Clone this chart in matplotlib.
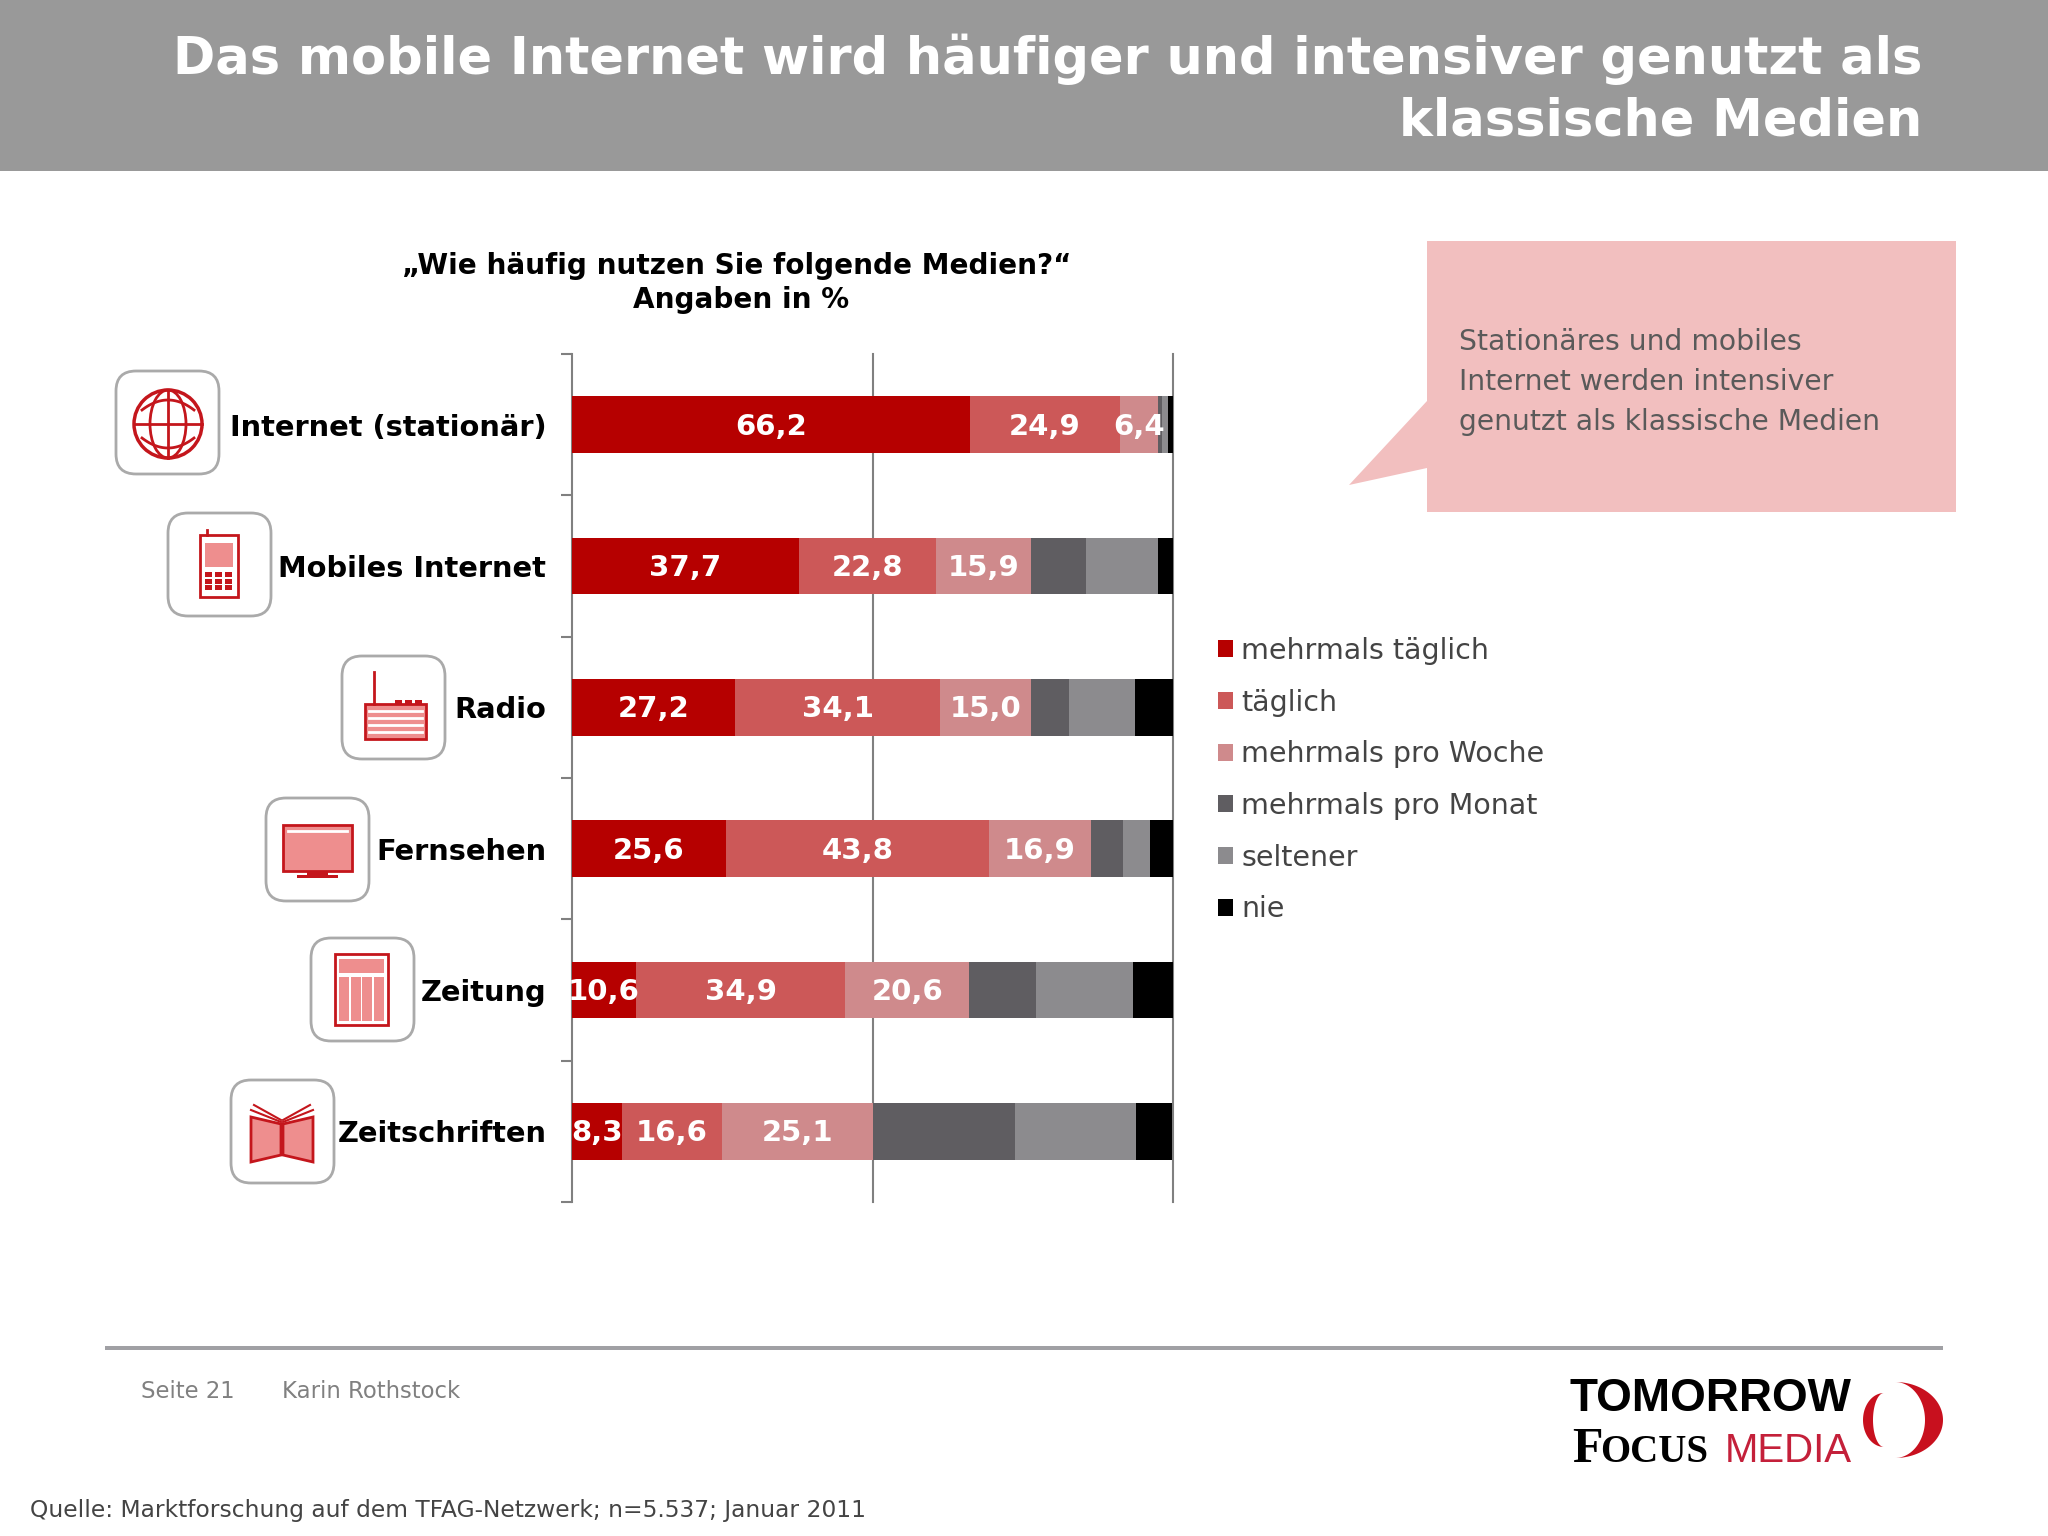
import numpy as np
import matplotlib
matplotlib.use('Agg')
import matplotlib.pyplot as plt
from matplotlib.patches import Rectangle, Circle, Ellipse, Polygon, FancyBboxPatch

# Chart data
media = ["Internet (stationär)", "Mobiles Internet", "Radio", "Fernsehen", "Zeitung", "Zeitschriften"]
mehrmals_taeglich = [66.2, 37.7, 27.2, 25.6, 10.6, 8.3]
taeglich = [24.9, 22.8, 34.1, 43.8, 34.9, 16.6]
mehrmals_woche = [6.4, 15.9, 15.0, 16.9, 20.6, 25.1]
mehrmals_monat = [0.6, 9.1, 6.4, 5.4, 11.1, 23.7]
seltener = [1.1, 12.0, 10.9, 4.4, 16.1, 20.2]
nie = [0.8, 2.5, 6.4, 3.9, 6.7, 6.0]

series_names = ["mehrmals täglich", "täglich", "mehrmals pro Woche", "mehrmals pro Monat", "seltener", "nie"]
series_values = [mehrmals_taeglich, taeglich, mehrmals_woche, mehrmals_monat, seltener, nie]
series_colors = ["#B60000", "#CC5858", "#CF8A8C", "#5F5D61", "#8C8B8E", "#000000"]

RED = "#C4161C"
PINK = "#EE8E8E"
W, H = 2048, 1536

plt.rcParams['font.family'] = ['DejaVu Sans']
fig = plt.figure(figsize=(20.48, 15.36), dpi=100, facecolor='white')

# Overlay in pixel coordinates for slide furniture
bg = fig.add_axes([0, 0, 1, 1])
bg.set_xlim(0, W)
bg.set_ylim(H, 0)
bg.axis('off')


def rect(x0, y0, x1, y1, **kw):
    bg.add_patch(Rectangle((x0, y0), x1 - x0, y1 - y0, **kw))


def crescent(cx, cy, rx_out, rx_in, ry, sign, color):
    t = np.linspace(-np.pi / 2, np.pi / 2, 60)
    outer = np.c_[cx + sign * rx_out * np.cos(t), cy + ry * np.sin(t)]
    inner = np.c_[cx + sign * rx_in * np.cos(t[::-1]), cy + ry * np.sin(t[::-1])]
    bg.add_patch(Polygon(np.r_[outer, inner], closed=True, fc=color, ec='none'))


# Header
rect(0, 0, W, 171, fc='#999999', ec='none')
bg.text(1922, 59, "Das mobile Internet wird häufiger und intensiver genutzt als", color='white',
        fontsize=36.7, fontweight='bold', ha='right', va='center')
bg.text(1922, 121, "klassische Medien", color='white', fontsize=36.7, fontweight='bold', ha='right', va='center')

# Chart heading
bg.text(737, 266, "„Wie häufig nutzen Sie folgende Medien?“", fontsize=20.1, fontweight='bold', ha='center', va='center')
bg.text(741, 300, "Angaben in %", fontsize=20.1, fontweight='bold', ha='center', va='center')

# Callout
rect(1427, 241, 1956, 512, fc='#F2BFBF', ec='none')
bg.add_patch(Polygon([(1427, 401), (1349, 485), (1427, 468)], closed=True, fc='#F2BFBF', ec='none'))
for y, line in zip([342, 382, 422], ["Stationäres und mobiles", "Internet werden intensiver",
                                     "genutzt als klassische Medien"]):
    bg.text(1459, y, line, fontsize=20.3, color='#5A5A5A', va='center')

# Icon boxes
icon_boxes = [(116, 371), (168, 513), (342, 656), (266, 798), (311, 938), (231, 1080)]
for x, y in icon_boxes:
    bg.add_patch(FancyBboxPatch((x + 16, y + 16), 71, 71, boxstyle="round,pad=16,rounding_size=20",
                                fc='white', ec='#AAAAAA', lw=2))

# Globe
cx, cy = 168, 424
bg.add_patch(Circle((cx, cy), 34, fc='none', ec=RED, lw=2.5))
bg.add_patch(Ellipse((cx, cy), 36, 68, fc='none', ec=RED, lw=2))
bg.plot([cx, cx], [cy - 34, cy + 34], color=RED, lw=2)
bg.plot([cx - 34, cx + 34], [cy, cy], color=RED, lw=2)
t = np.linspace(-1, 1, 30)
for sign in (-1, 1):
    bg.plot(cx + 26 * t, cy + sign * (14 + 10 * (1 - t ** 2)), color=RED, lw=2)

# Phone
rect(200, 535, 238, 597, fc='white', ec=RED, lw=2)
bg.plot([207, 207], [530, 535], color=RED, lw=2)
rect(205, 543, 233, 567, fc=PINK, ec='none')
for i in range(3):
    for j in range(3):
        rect(205 + 10 * i, 572 + 6.5 * j, 212 + 10 * i, 577 + 6.5 * j, fc=RED, ec='none')

# Radio
rect(365, 704, 426, 739, fc=PINK, ec=RED, lw=2)
bg.plot([374, 374], [672, 704], color=RED, lw=2)
for x in (395, 405, 415):
    rect(x, 700, x + 7, 704, fc=RED, ec='none')
for y in (711, 718, 725, 732):
    bg.plot([369, 422], [y, y], color='white', lw=2)

# Monitor
rect(283, 825, 352, 871, fc=PINK, ec=RED, lw=2)
bg.plot([288, 347], [831, 831], color='white', lw=2)
rect(307, 871, 328, 876, fc=RED, ec='none')
rect(297, 875, 338, 878, fc=RED, ec='none')

# Newspaper
rect(335, 954, 388, 1025, fc='white', ec=RED, lw=2)
rect(339, 959, 384, 973, fc=PINK, ec='none')
for x in (339, 350.5, 362, 373.5):
    rect(x, 977, x + 10, 1021, fc=PINK, ec='none')

# Magazine
for a, b in ((251, 281), (313, 283)):
    bg.add_patch(Polygon([(a, 1117), (b, 1124), (b, 1155), (a, 1162)], closed=True, fc=PINK, ec=RED, lw=2))
    bg.plot([a + (b - a) * 0.1, b], [1105, 1120], color=RED, lw=1.5)
    bg.plot([a, b], [1110, 1122], color=RED, lw=1.5)

# Bars
ax = fig.add_axes([572 / W, 1 - 1202 / H, (1173 - 572) / W, (1202 - 354) / H])
ax.patch.set_alpha(0)
y_pos = np.arange(len(media))
left = np.zeros(len(media))
for i, (name, values, color) in enumerate(zip(series_names, series_values, series_colors)):
    bars = ax.barh(y_pos, values, left=left, height=0.4, color=color, label=name, zorder=3)
    if i < 3:
        texts = ax.bar_label(bars, labels=[f"{v:.1f}".replace('.', ',') for v in values], label_type='center',
                             color='white', fontsize=21, fontweight='bold', zorder=4)
        for txt in texts:
            txt.xyann = (0, -1.5)
    left += np.array(values)

ax.set_xlim(0, 100)
ax.set_ylim(len(media) - 0.5, -0.5)
ax.set_yticks(np.arange(-0.5, len(media)))
ax.set_yticklabels([])
ax.set_yticks(y_pos, minor=True)
ax.set_yticklabels(media, minor=True, fontsize=20.8, fontweight='bold')
ax.tick_params(axis='y', which='major', length=8, width=1.5, color='#808080')
ax.tick_params(axis='y', which='minor', length=0, pad=18.5)
ax.set_xticks([])
for spine in ('top', 'right', 'bottom'):
    ax.spines[spine].set_visible(False)
ax.spines['left'].set_color('#808080')
ax.spines['left'].set_linewidth(1.5)
for x in (50, 100):
    ax.axvline(x, color='#808080', lw=1.5, zorder=1, clip_on=False)

# Legend
handles, labels = ax.get_legend_handles_labels()
fig.legend(handles, labels, loc='upper left', bbox_to_anchor=(1218 / W, 1 - 637 / H), frameon=False,
           fontsize=20.5, handlelength=0.54, handleheight=0.54, handletextpad=0.27,
           labelspacing=0.83, labelcolor='#444444', borderpad=0, borderaxespad=0)

# Footer
rect(105, 1346, 1943, 1350, fc='#A0A0A4', ec='none')
bg.text(141, 1391, "Seite 21", fontsize=16.4, color='#808080', va='center')
bg.text(282, 1391, "Karin Rothstock", fontsize=16.4, color='#808080', va='center')
bg.text(30, 1511, "Quelle: Marktforschung auf dem TFAG-Netzwerk; n=5.537; Januar 2011", fontsize=16.8,
        color='#444444', va='center')

# Logo
bg.text(1570, 1399, "TOMORROW", fontsize=33, fontweight='bold', color='black', va='center',
        family='Liberation Sans')
bg.text(1572, 1462, "F", fontsize=36, fontweight='bold', color='black', va='baseline', family='Liberation Serif')
bg.text(1600, 1462, "OCUS", fontsize=28, fontweight='bold', color='black', va='baseline', family='Liberation Serif')
bg.text(1725, 1462, "MEDIA", fontsize=29, color='#C4203A', va='baseline', family='Liberation Sans')
crescent(1895, 1420, 48, 30, 38, 1, '#C8101E')
crescent(1884, 1420, 21, 11, 27, -1, '#C8101E')

fig.savefig('out.png', dpi=100)
